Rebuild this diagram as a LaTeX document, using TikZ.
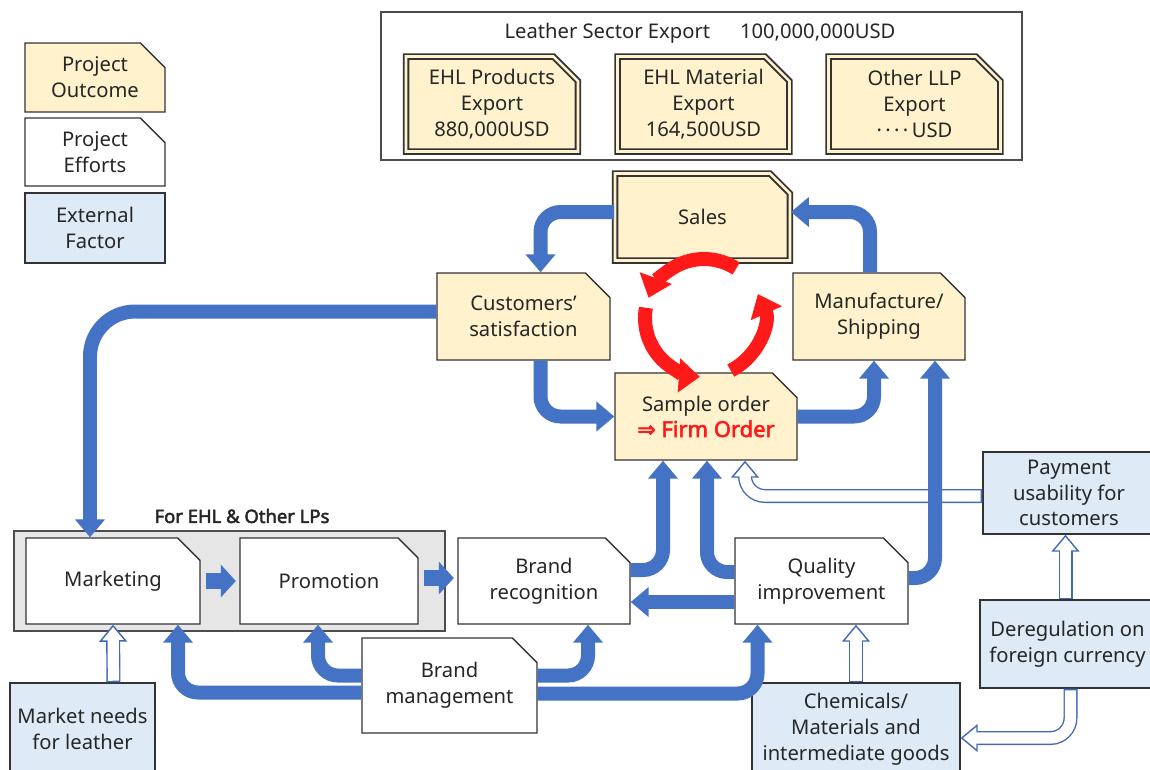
\documentclass[tikz,border=0pt]{standalone}
\usepackage{fontspec}
\setmainfont{Noto Sans}
\newfontfamily\symfont{DejaVu Sans}[FakeBold=2.5]
\newfontfamily\fbfont{Noto Sans}[FakeBold=2.5]
\usetikzlibrary{arrows.meta,shapes.misc,calc}
\definecolor{yel}{HTML}{FFF2CC}
\definecolor{lblue}{HTML}{DEEBF7}
\definecolor{ablue}{HTML}{4472C4}
\definecolor{hblue}{HTML}{4169B4}
\definecolor{gfill}{HTML}{E6E6E6}
\definecolor{bord}{HTML}{333333}
\definecolor{cred}{HTML}{FF1A1A}
\tikzset{
  txt/.style={font=\fontsize{11.5}{14.7}\selectfont, text=black!85, align=center},
  snip/.style={txt, chamfered rectangle, chamfered rectangle corners=north east,
    chamfered rectangle xsep=7pt, chamfered rectangle ysep=7pt,
    draw=bord, line width=0.8pt, inner sep=0pt},
  outbox/.style={snip, fill=yel},
  effbox/.style={snip, fill=white},
  extbox/.style={txt, rectangle, draw=bord, line width=0.8pt, fill=lblue, inner sep=0pt},
  dbox/.style={outbox, double=yel, double distance=1.5pt, line width=1.1pt},
  barrow/.style={draw=ablue, line width=0.28cm, rounded corners=0.4cm,
    -{Triangle[width=0.58cm,length=0.36cm]}},
  sarrow/.style={draw=ablue, line width=0.32cm, shorten <=3pt, shorten >=2pt,
    -{Triangle[width=0.64cm,length=0.3cm]}},
  rarrow/.style={draw=cred, line width=0.28cm, -{Triangle[width=0.66cm,length=0.42cm]}},
}
\newcommand\hollowarrow[1]{%
  \draw[draw=hblue, line width=0.28cm, rounded corners=0.4cm,
    -{Triangle[width=0.56cm,length=0.34cm,line width=0.8pt,fill=white]}] #1;
  \draw[white, line width=0.225cm, rounded corners=0.4cm, shorten >=0.3cm, shorten <=0.9pt] #1;
}
\begin{document}
\begin{tikzpicture}[x=0.02cm,y=-0.02cm]
\useasboundingbox (0,0) rectangle (1150,769);
\clip (0,0) rectangle (1150,769);
\fill[white] (0,0) rectangle (1150,769);

% legend
\node[outbox, minimum width=2.8cm, minimum height=1.38cm] (lo) at (95,77.5) {Project\\Outcome};
\node[effbox, minimum width=2.8cm, minimum height=1.36cm] (le) at (95,152) {Project\\Efforts};
\node[extbox, minimum width=2.8cm, minimum height=1.4cm] (lx) at (95,228) {External\\Factor};

% top container
\node[txt, chamfered rectangle, chamfered rectangle corners=north east,
  chamfered rectangle xsep=2pt, chamfered rectangle ysep=2pt,
  draw=black!70, line width=0.8pt, fill=white, inner sep=0pt,
  minimum width=12.82cm, minimum height=2.96cm] (top) at (701.5,86) {};
\node[txt] (toptitle) at (700,33) {Leather Sector Export\hspace{17pt}100,000,000USD};
\node[dbox, minimum width=3.44cm, minimum height=1.9cm] (p1) at (492,104) {EHL Products\\Export\\880,000USD};
\node[dbox, minimum width=3.44cm, minimum height=1.9cm] (p2) at (703.5,104) {EHL Material\\Export\\164,500USD};
\node[dbox, minimum width=3.44cm, minimum height=1.9cm] (p3) at (914.5,104) {Other LLP\\Export\\·\,·\,·\,·\,USD};

% cycle boxes
\node[dbox, minimum width=3.5cm, minimum height=1.74cm] (sales) at (702.5,217) {Sales};
\node[outbox, minimum width=3.46cm, minimum height=1.74cm] (cust) at (523.5,316.5) {Customers'\\satisfaction};
\node[outbox, minimum width=3.44cm, minimum height=1.74cm] (manu) at (879,316.5) {Manufacture/\\Shipping};
\node[outbox, minimum width=3.64cm, minimum height=1.74cm] (sample) at (706,416.5)
  {Sample order\\{\fontsize{12.5}{14.7}\selectfont\color{cred}{\symfont ⇒} \fbfont Firm Order}};

% group
\node[draw=black!70, line width=0.8pt, fill=gfill, minimum width=8.62cm, minimum height=2cm, inner sep=0pt] (grp) at (229.5,581) {};
\node[txt, font=\fontsize{10.5}{12}\selectfont\fbfont] (grplabel) at (242,516) {For EHL \& Other LPs};
\node[effbox, minimum width=3.48cm, minimum height=1.72cm] (mkt) at (113,581) {Marketing};
\node[effbox, minimum width=3.56cm, minimum height=1.72cm] (promo) at (329,581) {Promotion};
\node[effbox, minimum width=3.44cm, minimum height=1.72cm] (brand) at (544,581) {Brand\\recognition};
\node[effbox, minimum width=3.46cm, minimum height=1.72cm] (qual) at (821.5,581) {Quality\\improvement};
\node[effbox, minimum width=3.5cm, minimum height=1.9cm] (bmgmt) at (449.5,685.5) {Brand\\management};

% external factors
\node[extbox, minimum width=2.9cm, minimum height=1.84cm] (mneed) at (82.5,729) {Market needs\\for leather};
\node[extbox, minimum width=3.44cm, minimum height=1.64cm] (pay) at (1069,493) {Payment\\usability for\\customers};
\node[extbox, minimum width=3.5cm, minimum height=1.76cm] (dereg) at (1067.5,644) {Deregulation on\\foreign currency};
\node[extbox, minimum width=4.16cm, minimum height=1.84cm] (chem) at (856,729) {Chemicals/\\Materials and\\intermediate goods};

% hollow arrows (external influences)
\hollowarrow{($(mneed.north)+(31,0)$) -- (mkt.south)}
\hollowarrow{(chem.north) -- (chem.north |- qual.south)}
\hollowarrow{($(dereg.north)+(-2,0)$) -- ($(dereg.north |- pay.south)+(-2,0)$)}
\hollowarrow{($(pay.west)+(0,3)$) -| ($(sample.south)+(39,0)$)}
\hollowarrow{($(dereg.south)+(3,0)$) |- ($(chem.east)+(0,9)$)}

% blue arrows
\draw[barrow] ($(sales.west)+(0,-5)$) -| ($(cust.north)+(17,0)$);
\draw[barrow] ($(manu.north)+(-9,0)$) |- ($(sales.east)+(0,-5)$);
\draw[barrow] ($(cust.south)+(17,0)$) |- (sample.west);
\draw[barrow] (sample.east) -| ($(manu.south)+(-5,0)$);
\draw[barrow, rounded corners=0.9cm] ($(cust.west)+(0,-5)$) -| ($(mkt.north)+(-23,0)$);
\draw[sarrow] (mkt.east) -- (promo.west);
\draw[sarrow] ($(promo.east)+(0,-3)$) -- ($(brand.west)+(0,-3)$);
\draw[barrow] ($(brand.east)+(0,-11)$) -| ($(sample.south)+(-43,0)$);
\draw[barrow] ($(qual.west)+(0,-9)$) -| ($(sample.south)+(1,0)$);
\draw[barrow] ($(qual.west)+(0,21)$) -- ($(brand.east)+(0,21)$);
\draw[barrow] ($(qual.east)+(0,-3)$) -| ($(manu.south)+(56,0)$);
\draw[barrow] ($(bmgmt.west)+(0,-10)$) -| ($(promo.south)+(-11,0)$);
\draw[barrow] ($(bmgmt.west)+(0,7)$) -| ($(mkt.south)+(65,0)$);
\draw[barrow] ($(bmgmt.east)+(0,-10)$) -| ($(brand.south)+(44,0)$);
\draw[barrow] ($(bmgmt.east)+(0,8)$) -| ($(qual.south)+(-64,0)$);

% red cycle
\coordinate (cyc) at (704,318);
\draw[rarrow] ($(cyc)+(57:1.18cm)$) arc[start angle=57, end angle=160, radius=1.18cm];
\draw[rarrow] ($(cyc)+(170:1.18cm)$) arc[start angle=170, end angle=266, radius=1.18cm];
\draw[rarrow] ($(cyc)+(297:1.18cm)$) arc[start angle=297, end angle=384, radius=1.18cm];
\end{tikzpicture}
\end{document}
